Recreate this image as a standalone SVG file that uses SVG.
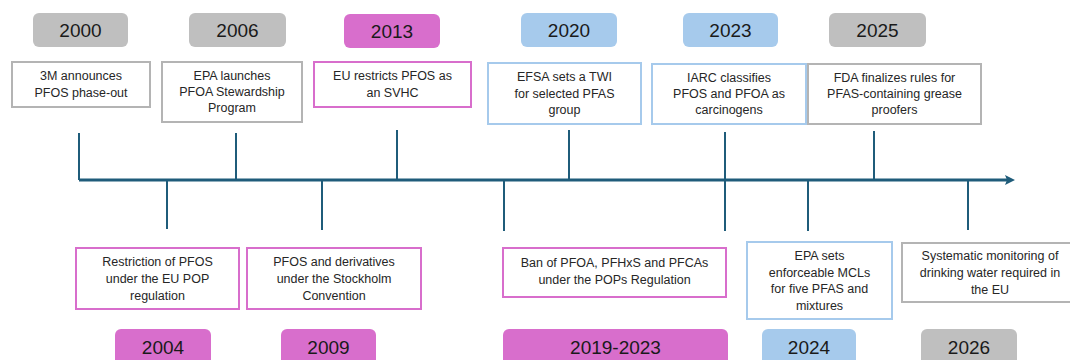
<svg xmlns="http://www.w3.org/2000/svg" width="1070" height="360" viewBox="0 0 1070 360">
  <style>
    .yr { font-family: "Liberation Sans", Arial, sans-serif; font-size: 19px; fill: #1a1a1a; text-anchor: middle; }
    .tx { font-family: "Liberation Sans", Arial, sans-serif; font-size: 12.5px; fill: #262626; text-anchor: middle; }
    .pill-gray { fill: #bfbfbf; }
    .pill-mag { fill: #d86ecc; }
    .pill-blue { fill: #a6caec; }
    .box { fill: #ffffff; stroke-width: 2; }
    .box-gray { stroke: #b4b4b4; }
    .box-mag { stroke: #d86ecc; }
    .box-blue { stroke: #a6caec; }
    .tick { stroke: #1f5c7a; stroke-width: 2; fill: none; }
  </style>
  <defs>
    <marker id="arrow" markerWidth="10" markerHeight="10" refX="2" refY="5" orient="auto" markerUnits="userSpaceOnUse">
      <path d="M0,0 L10,5 L0,10 L2,5 Z" fill="#1f5c7a"/>
    </marker>
  </defs>
  <rect width="1070" height="360" fill="#ffffff"/>

  <!-- timeline axis and ticks -->
  <g id="connectors">
    <line x1="79" y1="180" x2="1007" y2="180" stroke="#1f5c7a" stroke-width="3" marker-end="url(#arrow)"/>
    <line class="tick" x1="79" y1="133" x2="79" y2="180"/>
    <line class="tick" x1="236" y1="133" x2="236" y2="180"/>
    <line class="tick" x1="397" y1="130" x2="397" y2="180"/>
    <line class="tick" x1="569" y1="130" x2="569" y2="180"/>
    <line class="tick" x1="725" y1="132" x2="725" y2="231"/>
    <line class="tick" x1="874" y1="131" x2="874" y2="180"/>
    <line class="tick" x1="167" y1="180" x2="167" y2="229"/>
    <line class="tick" x1="322" y1="180" x2="322" y2="230"/>
    <line class="tick" x1="504" y1="180" x2="504" y2="231"/>
    <line class="tick" x1="808" y1="180" x2="808" y2="231"/>
    <line class="tick" x1="968" y1="180" x2="968" y2="230"/>
  </g>

  <!-- events above the axis -->
  <g id="e2000">
    <rect class="pill-gray" x="33" y="13" width="95" height="34" rx="6"/>
    <text class="yr" x="80.5" y="37">2000</text>
    <rect class="box box-gray" x="12" y="62" width="138" height="45" stroke="#a6a6a6"/>
    <text class="tx" x="81" y="80">3M announces</text>
    <text class="tx" x="81" y="97">PFOS phase-out</text>
  </g>
  <g id="e2006">
    <rect class="pill-gray" x="189" y="13" width="97" height="34" rx="6"/>
    <text class="yr" x="237.5" y="37">2006</text>
    <rect class="box box-gray" x="162" y="62" width="140" height="60"/>
    <text class="tx" x="232" y="80">EPA launches</text>
    <text class="tx" x="232" y="96">PFOA Stewardship</text>
    <text class="tx" x="232" y="112">Program</text>
  </g>
  <g id="e2013">
    <rect class="pill-mag" x="344" y="14" width="96" height="34" rx="6"/>
    <text class="yr" x="392" y="38">2013</text>
    <rect class="box box-mag" x="314" y="62" width="157" height="45"/>
    <text class="tx" x="392.5" y="80">EU restricts PFOS as</text>
    <text class="tx" x="392.5" y="97">an SVHC</text>
  </g>
  <g id="e2020">
    <rect class="pill-blue" x="521" y="13" width="96" height="34" rx="6"/>
    <text class="yr" x="569" y="37">2020</text>
    <rect class="box box-blue" x="488" y="63" width="153" height="61"/>
    <text class="tx" x="564.5" y="81">EFSA sets a TWI</text>
    <text class="tx" x="564.5" y="98">for selected PFAS</text>
    <text class="tx" x="564.5" y="114">group</text>
  </g>
  <g id="e2023">
    <rect class="pill-blue" x="683" y="13" width="95" height="34" rx="6"/>
    <text class="yr" x="730.5" y="37">2023</text>
    <rect class="box box-blue" x="652" y="64" width="154" height="60"/>
    <text class="tx" x="729" y="82">IARC classifies</text>
    <text class="tx" x="729" y="98">PFOS and PFOA as</text>
    <text class="tx" x="729" y="114">carcinogens</text>
  </g>
  <g id="e2025">
    <rect class="pill-gray" x="829" y="13" width="97" height="34" rx="6"/>
    <text class="yr" x="877.5" y="37">2025</text>
    <rect class="box box-gray" x="808" y="64" width="173" height="60"/>
    <text class="tx" x="894.5" y="82">FDA finalizes rules for</text>
    <text class="tx" x="894.5" y="98">PFAS-containing grease</text>
    <text class="tx" x="894.5" y="114">proofers</text>
  </g>

  <!-- events below the axis -->
  <g id="e2004">
    <rect class="box box-mag" x="76" y="248" width="163" height="61"/>
    <text class="tx" x="157.5" y="266">Restriction of PFOS</text>
    <text class="tx" x="157.5" y="283">under the EU POP</text>
    <text class="tx" x="157.5" y="300">regulation</text>
    <rect class="pill-mag" x="115" y="329" width="96" height="36" rx="6"/>
    <text class="yr" x="163" y="354">2004</text>
  </g>
  <g id="e2009">
    <rect class="box box-mag" x="247" y="248" width="174" height="61"/>
    <text class="tx" x="334" y="266">PFOS and derivatives</text>
    <text class="tx" x="334" y="283">under the Stockholm</text>
    <text class="tx" x="334" y="300">Convention</text>
    <rect class="pill-mag" x="281" y="329" width="95" height="36" rx="6"/>
    <text class="yr" x="328.5" y="354">2009</text>
  </g>
  <g id="e2019-2023">
    <rect class="box box-mag" x="503" y="248" width="223" height="49"/>
    <text class="tx" x="614.5" y="267">Ban of PFOA, PFHxS and PFCAs</text>
    <text class="tx" x="614.5" y="284">under the POPs Regulation</text>
    <rect class="pill-mag" x="503" y="329" width="225" height="36" rx="6"/>
    <text class="yr" x="615.5" y="354">2019-2023</text>
  </g>
  <g id="e2024">
    <rect class="box box-blue" x="747" y="242" width="145" height="77"/>
    <text class="tx" x="819.5" y="260">EPA sets</text>
    <text class="tx" x="819.5" y="277">enforceable MCLs</text>
    <text class="tx" x="819.5" y="293">for five PFAS and</text>
    <text class="tx" x="819.5" y="310">mixtures</text>
    <rect class="pill-blue" x="762" y="329" width="94" height="36" rx="6"/>
    <text class="yr" x="809" y="354">2024</text>
  </g>
  <g id="e2026">
    <rect class="box box-gray" x="902" y="243" width="172" height="59"/>
    <text class="tx" x="990" y="260">Systematic monitoring of</text>
    <text class="tx" x="990" y="277">drinking water required in</text>
    <text class="tx" x="990" y="294">the EU</text>
    <rect class="pill-gray" x="921" y="329" width="96" height="36" rx="6"/>
    <text class="yr" x="969" y="354">2026</text>
  </g>
</svg>
